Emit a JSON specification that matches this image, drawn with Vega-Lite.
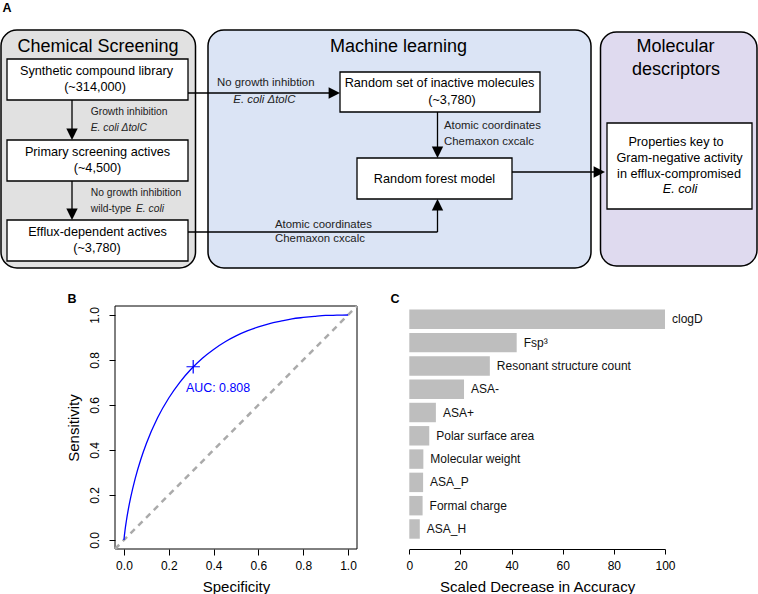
{
  "$schema": "https://vega.github.io/schema/vega-lite/v6.json",
  "width": 758,
  "height": 594,
  "autosize": {"type": "none"},
  "padding": 0,
  "background": "white",
  "config": {
    "font": "Liberation Sans",
    "view": {"stroke": null},
    "axis": {"grid": false, "labelFlush": false, "labelOverlap": false, "labelBound": false}
  },
  "datasets": {
    "containers": [
      {"panel": "Chemical Screening", "x1": 1, "x2": 195.5, "y1": 30, "y2": 268},
      {"panel": "Machine learning", "x1": 208, "x2": 591, "y1": 30, "y2": 268},
      {"panel": "Molecular descriptors", "x1": 600.5, "x2": 757, "y1": 32, "y2": 266}
    ],
    "boxes": [
      {"id": "library", "x1": 7, "x2": 188, "y1": 59, "y2": 100},
      {"id": "primary", "x1": 7, "x2": 188, "y1": 140, "y2": 181},
      {"id": "efflux", "x1": 7, "x2": 188, "y1": 220, "y2": 261},
      {"id": "inactive", "x1": 340, "x2": 540, "y1": 72, "y2": 112},
      {"id": "forest", "x1": 357, "x2": 512, "y1": 158, "y2": 199},
      {"id": "properties", "x1": 607, "x2": 752, "y1": 123, "y2": 209}
    ],
    "links": [
      {"x1": 72, "y1": 100, "x2": 72, "y2": 134},
      {"x1": 72, "y1": 181, "x2": 72, "y2": 214},
      {"x1": 188, "y1": 93, "x2": 334, "y2": 93},
      {"x1": 437.5, "y1": 112, "x2": 437.5, "y2": 152},
      {"x1": 188, "y1": 232, "x2": 437.5, "y2": 232},
      {"x1": 437.5, "y1": 232, "x2": 437.5, "y2": 205},
      {"x1": 512, "y1": 172, "x2": 599, "y2": 172}
    ],
    "heads": [
      {"x": 72, "y": 134.3, "dir": "down"},
      {"x": 72, "y": 214.3, "dir": "down"},
      {"x": 334.3, "y": 93, "dir": "right"},
      {"x": 437.5, "y": 152.3, "dir": "down"},
      {"x": 437.5, "y": 204.7, "dir": "up"},
      {"x": 599.3, "y": 172, "dir": "right"}
    ],
    "titles": [
      {"t": "Chemical Screening", "x": 98, "y": 47},
      {"t": "Machine learning", "x": 398.5, "y": 47},
      {"t": "Molecular", "x": 675.5, "y": 47},
      {"t": "descriptors", "x": 676, "y": 70}
    ],
    "boxText": [
      {"t": "Synthetic compound library", "x": 96.5, "y": 71},
      {"t": "(~314,000)", "x": 95, "y": 87.3},
      {"t": "Primary screening actives", "x": 97.5, "y": 152},
      {"t": "(~4,500)", "x": 97.5, "y": 168.3},
      {"t": "Efflux-dependent actives", "x": 97.5, "y": 232},
      {"t": "(~3,780)", "x": 97, "y": 248.3},
      {"t": "Random set of inactive molecules", "x": 439.5, "y": 82.7},
      {"t": "(~3,780)", "x": 452, "y": 99.5},
      {"t": "Random forest model", "x": 434.5, "y": 179},
      {"t": "Properties key to", "x": 676, "y": 142},
      {"t": "Gram-negative activity", "x": 679.5, "y": 158},
      {"t": "in efflux-compromised", "x": 679, "y": 173.5}
    ],
    "boxTextItalic": [
      {"t": "E. coli", "x": 680, "y": 189}
    ],
    "smallText": [
      {"t": "Growth inhibition", "x": 90.7, "y": 112},
      {"t": "No growth inhibition", "x": 90.7, "y": 193},
      {"t": "wild-type", "x": 90.7, "y": 209.3}
    ],
    "smallTextItalic": [
      {"t": "E. coli ΔtolC", "x": 90.7, "y": 128},
      {"t": "E. coli", "x": 136, "y": 209.3}
    ],
    "edgeText": [
      {"t": "No growth inhibtion", "x": 217, "y": 83.3},
      {"t": "Atomic coordinates", "x": 444, "y": 126},
      {"t": "Chemaxon cxcalc", "x": 444, "y": 141.7},
      {"t": "Atomic coordinates", "x": 275, "y": 225},
      {"t": "Chemaxon cxcalc", "x": 275, "y": 239.3}
    ],
    "edgeTextItalic": [
      {"t": "E. coli ΔtolC", "x": 233.3, "y": 100}
    ],
    "letters": [
      {"t": "A", "x": 7, "y": 7.5},
      {"t": "B", "x": 72, "y": 298.5},
      {"t": "C", "x": 395, "y": 298.5}
    ],
    "roc": [
      {"specificity": 0, "sensitivity": 0},
      {"specificity": 0.001, "sensitivity": 0.011},
      {"specificity": 0.005, "sensitivity": 0.045},
      {"specificity": 0.01, "sensitivity": 0.08},
      {"specificity": 0.02, "sensitivity": 0.139},
      {"specificity": 0.03, "sensitivity": 0.189},
      {"specificity": 0.05, "sensitivity": 0.273},
      {"specificity": 0.075, "sensitivity": 0.358},
      {"specificity": 0.1, "sensitivity": 0.429},
      {"specificity": 0.15, "sensitivity": 0.543},
      {"specificity": 0.2, "sensitivity": 0.631},
      {"specificity": 0.25, "sensitivity": 0.702},
      {"specificity": 0.3, "sensitivity": 0.76},
      {"specificity": 0.35, "sensitivity": 0.808},
      {"specificity": 0.4, "sensitivity": 0.847},
      {"specificity": 0.45, "sensitivity": 0.88},
      {"specificity": 0.5, "sensitivity": 0.907},
      {"specificity": 0.55, "sensitivity": 0.929},
      {"specificity": 0.6, "sensitivity": 0.947},
      {"specificity": 0.65, "sensitivity": 0.962},
      {"specificity": 0.7, "sensitivity": 0.973},
      {"specificity": 0.75, "sensitivity": 0.983},
      {"specificity": 0.8, "sensitivity": 0.989},
      {"specificity": 0.85, "sensitivity": 0.994},
      {"specificity": 0.9, "sensitivity": 0.998},
      {"specificity": 0.95, "sensitivity": 0.999},
      {"specificity": 1, "sensitivity": 1}
    ],
    "threshold": [
      {"specificity": 0.309, "sensitivity": 0.77, "auc": "AUC: 0.808", "labelSpec": 0.277, "labelSens": 0.676}
    ],
    "importance": [
      {"feature": "clogD", "value": 100},
      {"feature": "Fsp³", "value": 42.0},
      {"feature": "Resonant structure count", "value": 31.5},
      {"feature": "ASA-", "value": 21.4},
      {"feature": "ASA+", "value": 10.4},
      {"feature": "Polar surface area", "value": 7.8},
      {"feature": "Molecular weight", "value": 5.5},
      {"feature": "ASA_P", "value": 5.4},
      {"feature": "Formal charge", "value": 5.2},
      {"feature": "ASA_H", "value": 4.1}
    ]
  },
  "layer": [
    {
      "layer": [
        {
          "data": {"name": "containers"},
          "mark": {"type": "rect", "stroke": "black", "strokeWidth": 1.5, "cornerRadius": 16},
          "encoding": {
            "x": {"field": "x1", "type": "quantitative", "scale": {"domain": [0, 758], "range": [0, 758], "nice": false, "zero": false}, "axis": null},
            "x2": {"field": "x2"},
            "y": {"field": "y1", "type": "quantitative", "scale": {"domain": [0, 594], "range": [0, 594], "nice": false, "zero": false}, "axis": null},
            "y2": {"field": "y2"},
            "color": {"field": "panel", "type": "nominal", "scale": {"domain": ["Chemical Screening", "Machine learning", "Molecular descriptors"], "range": ["#e1e1e1", "#dbe4f5", "#dfdaef"]}, "legend": null}
          }
        },
        {
          "data": {"name": "boxes"},
          "mark": {"type": "rect", "fill": "white", "stroke": "black", "strokeWidth": 1.3},
          "encoding": {
            "x": {"field": "x1", "type": "quantitative"},
            "x2": {"field": "x2"},
            "y": {"field": "y1", "type": "quantitative"},
            "y2": {"field": "y2"}
          }
        },
        {
          "data": {"name": "links"},
          "mark": {"type": "rule", "color": "black", "strokeWidth": 1.3},
          "encoding": {
            "x": {"field": "x1", "type": "quantitative"},
            "x2": {"field": "x2"},
            "y": {"field": "y1", "type": "quantitative"},
            "y2": {"field": "y2"}
          }
        },
        {
          "data": {"name": "heads"},
          "mark": {"type": "point", "filled": true, "color": "black", "opacity": 1, "size": 130, "strokeWidth": 0},
          "encoding": {
            "x": {"field": "x", "type": "quantitative"},
            "y": {"field": "y", "type": "quantitative"},
            "shape": {"field": "dir", "type": "nominal", "scale": {"domain": ["down", "up", "right"], "range": ["M-1,-1L1,-1L0,1Z", "M-1,1L1,1L0,-1Z", "M-1,-1L-1,1L1,0Z"]}, "legend": null}
          }
        },
        {
          "data": {"name": "titles"},
          "mark": {"type": "text", "fontSize": 18, "align": "center", "baseline": "middle", "color": "black"},
          "encoding": {
            "x": {"field": "x", "type": "quantitative"},
            "y": {"field": "y", "type": "quantitative"},
            "text": {"field": "t"}
          }
        },
        {
          "data": {"name": "boxText"},
          "mark": {"type": "text", "fontSize": 12.7, "align": "center", "baseline": "middle", "color": "black"},
          "encoding": {
            "x": {"field": "x", "type": "quantitative"},
            "y": {"field": "y", "type": "quantitative"},
            "text": {"field": "t"}
          }
        },
        {
          "data": {"name": "boxTextItalic"},
          "mark": {"type": "text", "fontSize": 12.7, "fontStyle": "italic", "align": "center", "baseline": "middle", "color": "black"},
          "encoding": {
            "x": {"field": "x", "type": "quantitative"},
            "y": {"field": "y", "type": "quantitative"},
            "text": {"field": "t"}
          }
        },
        {
          "data": {"name": "smallText"},
          "mark": {"type": "text", "fontSize": 10.3, "align": "left", "baseline": "middle", "color": "#222222"},
          "encoding": {
            "x": {"field": "x", "type": "quantitative"},
            "y": {"field": "y", "type": "quantitative"},
            "text": {"field": "t"}
          }
        },
        {
          "data": {"name": "smallTextItalic"},
          "mark": {"type": "text", "fontSize": 10.3, "fontStyle": "italic", "align": "left", "baseline": "middle", "color": "#222222"},
          "encoding": {
            "x": {"field": "x", "type": "quantitative"},
            "y": {"field": "y", "type": "quantitative"},
            "text": {"field": "t"}
          }
        },
        {
          "data": {"name": "edgeText"},
          "mark": {"type": "text", "fontSize": 11.4, "align": "left", "baseline": "middle", "color": "#222222"},
          "encoding": {
            "x": {"field": "x", "type": "quantitative"},
            "y": {"field": "y", "type": "quantitative"},
            "text": {"field": "t"}
          }
        },
        {
          "data": {"name": "edgeTextItalic"},
          "mark": {"type": "text", "fontSize": 11.4, "fontStyle": "italic", "align": "left", "baseline": "middle", "color": "#222222"},
          "encoding": {
            "x": {"field": "x", "type": "quantitative"},
            "y": {"field": "y", "type": "quantitative"},
            "text": {"field": "t"}
          }
        },
        {
          "data": {"name": "letters"},
          "mark": {"type": "text", "fontSize": 12.5, "fontWeight": "bold", "align": "center", "baseline": "middle", "color": "black"},
          "encoding": {
            "x": {"field": "x", "type": "quantitative"},
            "y": {"field": "y", "type": "quantitative"},
            "text": {"field": "t"}
          }
        }
      ]
    },
    {
      "layer": [
        {
          "data": {"values": [{}]},
          "mark": {"type": "rect", "fill": null, "fillOpacity": 0, "stroke": "black", "strokeWidth": 1},
          "encoding": {
            "x": {"datum": -0.04, "type": "quantitative"},
            "x2": {"datum": 1.04},
            "y": {"datum": -0.04, "type": "quantitative"},
            "y2": {"datum": 1.04}
          }
        },
        {
          "data": {"values": [{}]},
          "mark": {"type": "rule", "color": "#aaaaaa", "strokeWidth": 2.5, "strokeDash": [6, 5]},
          "encoding": {
            "x": {"datum": -0.04, "type": "quantitative"},
            "x2": {"datum": 1.04},
            "y": {"datum": -0.04, "type": "quantitative"},
            "y2": {"datum": 1.04}
          }
        },
        {
          "data": {"name": "roc"},
          "mark": {"type": "line", "color": "#0000ff", "strokeWidth": 1.3, "interpolate": "monotone"},
          "encoding": {
            "x": {
              "field": "specificity", "type": "quantitative",
              "scale": {"domain": [-0.04, 1.04], "range": [115, 357], "nice": false, "zero": false},
              "axis": {
                "orient": "bottom", "offset": -45, "values": [0, 0.2, 0.4, 0.6, 0.8, 1], "format": ".1f",
                "domain": false, "ticks": true, "tickSize": 6, "tickColor": "black", "tickWidth": 1,
                "labelFontSize": 12, "labelColor": "black", "labelPadding": 5,
                "title": "Specificity", "titleFontSize": 15, "titleFontWeight": "normal", "titleColor": "black",
                "titleY": 37, "titleBaseline": "middle"
              }
            },
            "y": {
              "field": "sensitivity", "type": "quantitative",
              "scale": {"domain": [-0.04, 1.04], "range": [549, 306], "nice": false, "zero": false},
              "axis": {
                "orient": "left", "offset": -115, "values": [0, 0.2, 0.4, 0.6, 0.8, 1], "format": ".1f",
                "domain": false, "ticks": true, "tickSize": 6, "tickColor": "black", "tickWidth": 1,
                "labelFontSize": 12, "labelColor": "black", "labelPadding": 11, "labelAngle": 270,
                "labelAlign": "center", "labelBaseline": "alphabetic",
                "title": "Sensitivity", "titleFontSize": 15, "titleFontWeight": "normal", "titleColor": "black",
                "titleX": -42, "titleAngle": 270, "titleBaseline": "middle", "titleAlign": "center"
              }
            },
            "order": {"field": "specificity", "type": "quantitative"}
          }
        },
        {
          "data": {"name": "threshold"},
          "mark": {"type": "point", "shape": "M-1,0L1,0M0,-1L0,1", "size": 180, "filled": false, "color": "#0000ff", "strokeWidth": 1.2, "opacity": 1},
          "encoding": {
            "x": {"field": "specificity", "type": "quantitative"},
            "y": {"field": "sensitivity", "type": "quantitative"}
          }
        },
        {
          "data": {"name": "threshold"},
          "mark": {"type": "text", "fontSize": 12.4, "align": "left", "baseline": "middle", "color": "#0000ff"},
          "encoding": {
            "x": {"field": "labelSpec", "type": "quantitative"},
            "y": {"field": "labelSens", "type": "quantitative"},
            "text": {"field": "auc"}
          }
        }
      ]
    },
    {
      "layer": [
        {
          "data": {"name": "importance"},
          "mark": {"type": "bar", "color": "#bebebe"},
          "encoding": {
            "x": {
              "field": "value", "type": "quantitative",
              "scale": {"domain": [0, 100], "range": [409.3, 665], "nice": false, "zero": false},
              "axis": {
                "orient": "bottom", "offset": -45, "values": [0, 20, 40, 60, 80, 100],
                "domain": true, "domainColor": "black", "domainWidth": 1,
                "ticks": true, "tickSize": 5, "tickColor": "black", "tickWidth": 1,
                "labelFontSize": 12, "labelColor": "black", "labelPadding": 6,
                "title": "Scaled Decrease in Accuracy", "titleFontSize": 15, "titleFontWeight": "normal", "titleColor": "black",
                "titleY": 37, "titleBaseline": "middle"
              }
            },
            "y": {
              "field": "feature", "type": "nominal", "sort": "-x",
              "scale": {"range": [309.6, 538.7], "paddingInner": 0.165, "paddingOuter": 0},
              "axis": null
            }
          }
        },
        {
          "data": {"name": "importance"},
          "mark": {"type": "text", "fontSize": 12, "align": "left", "baseline": "middle", "dx": 7, "color": "#111111"},
          "encoding": {
            "x": {"field": "value", "type": "quantitative"},
            "y": {"field": "feature", "type": "nominal", "sort": "-x"},
            "text": {"field": "feature"}
          }
        }
      ]
    }
  ],
  "resolve": {"scale": {"x": "independent", "y": "independent", "color": "independent", "shape": "independent"}}
}
